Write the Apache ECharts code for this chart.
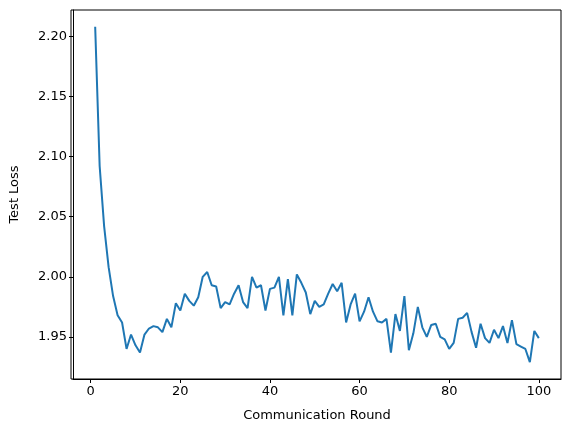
<!DOCTYPE html>
<html>
<head>
<meta charset="utf-8">
<script src="https://cdn.jsdelivr.net/npm/echarts@6/dist/echarts.min.js"></script>
<style>html,body{margin:0;padding:0;background:#fff}#chart{width:576px;height:432px}</style>
</head>
<body>
<div id="chart"></div>
<script>
// test loss per communication round
var rounds = [];
for (var i = 1; i <= 100; i++) rounds.push(i);
var testLoss = [
  2.208,2.092,2.042,2.008,1.984,1.968,1.962,1.940,1.952,1.943,
  1.937,1.952,1.957,1.959,1.958,1.954,1.965,1.958,1.978,1.972,
  1.986,1.980,1.976,1.983,2.000,2.004,1.993,1.992,1.974,1.979,
  1.977,1.986,1.993,1.979,1.974,2.000,1.991,1.993,1.972,1.990,
  1.991,2.000,1.968,1.998,1.968,2.002,1.995,1.987,1.969,1.980,
  1.975,1.977,1.986,1.994,1.988,1.995,1.962,1.977,1.986,1.963,
  1.971,1.983,1.971,1.963,1.962,1.965,1.937,1.969,1.955,1.984,
  1.939,1.953,1.975,1.958,1.950,1.960,1.961,1.950,1.948,1.940,
  1.945,1.965,1.966,1.970,1.954,1.941,1.961,1.949,1.945,1.956,
  1.949,1.959,1.945,1.964,1.944,1.942,1.940,1.929,1.955,1.949
];
var xTicks = [0, 20, 40, 60, 80, 100];
var yTicks = [1.95, 2.00, 2.05, 2.10, 2.15, 2.20];

var points = [];
for (var k = 0; k < rounds.length; k++) points.push([rounds[k], testLoss[k]]);

var chart = echarts.init(document.getElementById('chart'));
var axisText = {color: '#000', fontSize: 13, fontFamily: 'DejaVu Sans'};
chart.setOption({
  animation: false,
  grid: {left: 71, right: 15, top: 10, bottom: 53},
  xAxis: {
    type: 'value', min: -3.95, max: 104.95,
    name: 'Communication Round', nameLocation: 'middle', nameGap: 30,
    nameTextStyle: axisText,
    axisLine: {onZero: false, lineStyle: {color: '#000'}},
    axisTick: {show: true, length: 4, lineStyle: {color: '#000'}, customValues: xTicks},
    axisLabel: Object.assign({customValues: xTicks, margin: 6}, axisText),
    splitLine: {show: false}
  },
  yAxis: {
    type: 'value', min: 1.915, max: 2.222,
    name: 'Test Loss', nameLocation: 'middle', nameGap: 52,
    nameTextStyle: axisText,
    axisLine: {show: true, onZero: false, lineStyle: {color: '#000'}},
    axisTick: {show: true, length: 4, lineStyle: {color: '#000'}, customValues: yTicks},
    axisLabel: Object.assign({customValues: yTicks, margin: 6, formatter: function (v) { return v.toFixed(2); }}, axisText),
    splitLine: {show: false}
  },
  series: [{
    type: 'line', data: points, showSymbol: false,
    lineStyle: {color: '#1f77b4', width: 2}
  }]
});
// top/right frame
chart.setOption({graphic: [{type: 'rect', shape: {x: 71, y: 10, width: 490, height: 369}, style: {fill: 'none', stroke: '#000', lineWidth: 1}, silent: true}]});
</script>
</body>
</html>
